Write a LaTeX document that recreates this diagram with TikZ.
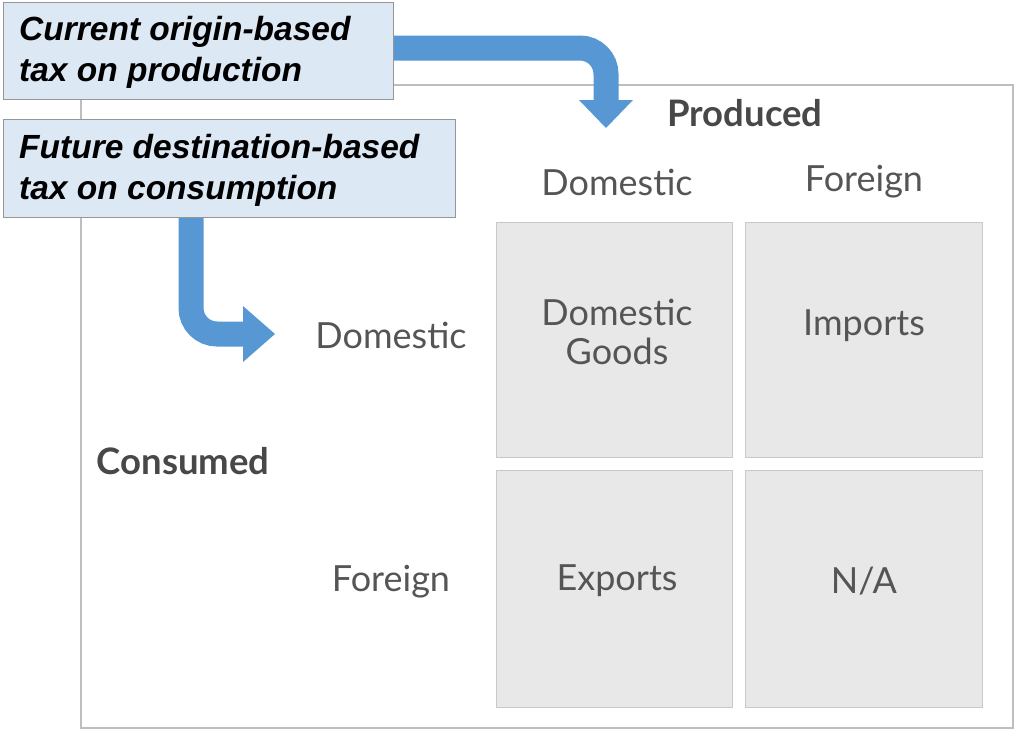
\documentclass[tikz,border=0pt]{standalone}
\usepackage{fontspec}
\setmainfont{Liberation Sans}
\newfontfamily\lato{Lato}
\definecolor{arrowblue}{RGB}{86,151,212}
\definecolor{boxblue}{RGB}{221,232,245}
\definecolor{boxedge}{RGB}{150,150,150}
\definecolor{cellfill}{RGB}{232,232,232}
\definecolor{celledge}{RGB}{200,200,200}
\definecolor{framegray}{RGB}{190,190,190}
\definecolor{labelgray}{RGB}{85,85,85}
\begin{document}
\begin{tikzpicture}[x=1pt,y=-1pt,
  taxbox/.style={draw=boxedge, line width=1.2pt, fill=boxblue, anchor=north west, inner sep=0pt},
  taxtext/.style={font=\fontsize{33.5}{41}\selectfont\bfseries\itshape, align=left, anchor=north west, inner sep=0pt, text=black},
  cellbox/.style={draw=celledge, line width=1.2pt, fill=cellfill, anchor=north west, inner sep=0pt},
  lbl/.style={font=\fontsize{36}{40}\selectfont\lato, text=labelgray, inner sep=0pt},
  blbl/.style={font=\fontsize{36.5}{40}\selectfont\lato\bfseries, text=labelgray!85!black, inner sep=0pt},
  bandline/.style={draw=arrowblue, line width=25pt, rounded corners=26pt},
  headtip/.style={fill=arrowblue, draw=none}]
\useasboundingbox (0,0) rectangle (1015,731);
% outer frame
\node[draw=framegray, line width=1.5pt, anchor=north west, minimum width=932pt, minimum height=643pt, inner sep=0pt] (frame) at (80,84) {};
% tax boxes
\node[taxbox, minimum width=390pt, minimum height=97pt] (cur) at (3,2) {};
\node[taxtext] (curtxt) at (19,16) {Current origin-based\\tax on production};
\node[taxbox, minimum width=452pt, minimum height=98pt] (fut) at (3,119) {};
\node[taxtext] (futtxt) at (19,134) {Future destination-based\\tax on consumption};
% cells
\node[cellbox, minimum width=236pt, minimum height=235pt] (c11) at (496,222) {};
\node[cellbox, minimum width=237pt, minimum height=235pt] (c12) at (745,222) {};
\node[cellbox, minimum width=236pt, minimum height=237pt] (c21) at (496,470) {};
\node[cellbox, minimum width=237pt, minimum height=237pt] (c22) at (745,470) {};
\node[lbl, align=center, font=\fontsize{36}{39}\selectfont\lato] (t11) at (617,332) {Domestic\\Goods};
\node[lbl] (t12) at (864,326) {Imports};
\node[lbl] (t21) at (617,581) {Exports};
\node[lbl] (t22) at (864,581) {N/A};
% headers
\node[blbl] (produced) at (745,113) {Produced};
\node[lbl] (pdom) at (617,182) {Domestic};
\node[lbl] (pfor) at (864,182) {Foreign};
\node[blbl] (consumed) at (183,461) {Consumed};
\node[lbl] (cdom) at (391,335) {Domestic};
\node[lbl] (cfor) at (391,582) {Foreign};
% arrows
\coordinate (a1end) at (606,101);
\coordinate (a1tip) at (606,128);
\draw[bandline] (cur.east |- 0,48) -- (606,48) -- (a1end);
\fill[headtip] (579,100) -- (633,100) -- (a1tip) -- cycle;
\coordinate (a2end) at (244,334);
\coordinate (a2tip) at (275,334);
\draw[bandline] (fut.south -| 191,0) -- (191,334) -- (a2end);
\fill[headtip] (243,306) -- (243,362) -- (a2tip) -- cycle;
\end{tikzpicture}
\end{document}
